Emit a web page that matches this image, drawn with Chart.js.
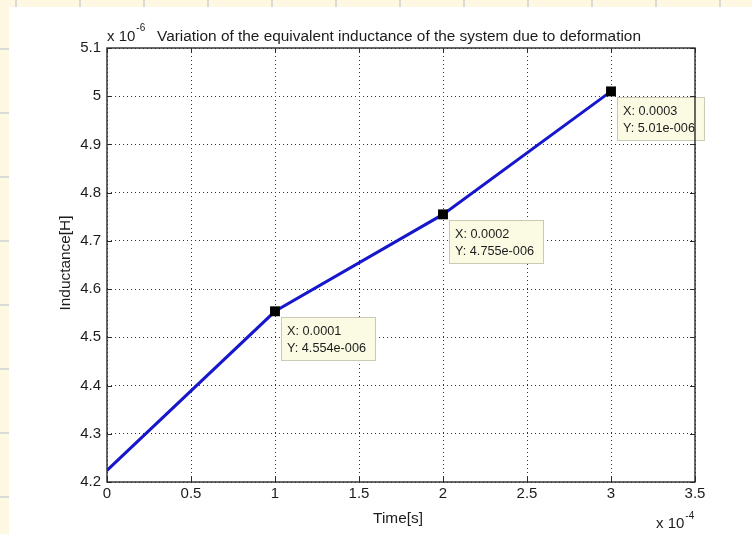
<!DOCTYPE html>
<html>
<head>
<meta charset="utf-8">
<script src="https://cdn.jsdelivr.net/npm/chart.js@4.4.1/dist/chart.umd.min.js"></script>
<style>
  html, body { margin: 0; padding: 0; width: 752px; height: 534px; overflow: hidden; }
  body {
    position: relative;
    background-color: #fef7e2;
    background-image:
      linear-gradient(to right, #dadad6 2px, transparent 2px),
      linear-gradient(to bottom, #dadad6 2px, transparent 2px);
    background-size: 64px 64px;
    background-position: 15px 48px;
  }
  #sheet { position: absolute; left: 9px; top: 7px; right: 0; bottom: 0; background: #ffffff; }
  #chart { position: absolute; left: 0; top: 0; }
</style>
</head>
<body>
<div id="sheet"></div>
<canvas id="chart" width="752" height="534"></canvas>
<script>
// Equivalent inductance of the system versus time
const timeValues = [0, 1e-4, 2e-4, 3e-4];                       // s
const inductanceValues = [4.224e-6, 4.554e-6, 4.755e-6, 5.01e-6]; // H
// Points that carry a data tip
const tipIndices = [1, 2, 3];

const xTickValues = [0, 0.5e-4, 1e-4, 1.5e-4, 2e-4, 2.5e-4, 3e-4, 3.5e-4];
const xTickLabels = ['0', '0.5', '1', '1.5', '2', '2.5', '3', '3.5'];
const yTickValues = [4.2e-6, 4.3e-6, 4.4e-6, 4.5e-6, 4.6e-6, 4.7e-6, 4.8e-6, 4.9e-6, 5.0e-6, 5.1e-6];
const yTickLabels = ['4.2', '4.3', '4.4', '4.5', '4.6', '4.7', '4.8', '4.9', '5', '5.1'];
const xExponent = '-4';
const yExponent = '-6';

const titleText = 'Variation of the equivalent inductance of the system due to deformation';
const xAxisTitle = 'Time[s]';
const yAxisTitle = 'Inductance[H]';

const FONT = '"Liberation Sans", Arial, Helvetica, sans-serif';
const INK = '#1c1c1c';

// MATLAB-style exponent text, e.g. 4.554e-006
function expText(v) {
  const parts = v.toExponential(3).split('e');
  const m = parts[0].replace(/\.?0+$/, '');
  const e = parts[1];
  return m + 'e' + e[0] + e.slice(1).padStart(3, '0');
}

const decorations = {
  id: 'decorations',
  afterDatasetsDraw(chart) {
    const ctx = chart.ctx;
    ctx.save();
    ctx.font = '12.7px ' + FONT;
    tipIndices.forEach((idx, k) => {
      const tip = chart.getDatasetMeta(1).data[k];
      const px = Math.round(tip.x), py = Math.round(tip.y);
      const l1 = 'X: ' + timeValues[idx].toFixed(4);
      const l2 = 'Y: ' + expText(inductanceValues[idx]);
      const w = Math.max(ctx.measureText(l1).width, ctx.measureText(l2).width) + 16;
      const h = 44;
      const bx = px + 6, by = py + 6;
      ctx.fillStyle = '#fbfbe4';
      ctx.fillRect(bx, by, w, h);
      ctx.strokeStyle = '#c9c9b6';
      ctx.lineWidth = 1;
      ctx.strokeRect(bx + 0.5, by + 0.5, w - 1, h - 1);
      ctx.fillStyle = INK;
      ctx.textAlign = 'left';
      ctx.textBaseline = 'middle';
      ctx.fillText(l1, bx + 6, by + 14);
      ctx.fillText(l2, bx + 6, by + 31);
    });
    ctx.restore();
  },
  afterDraw(chart) {
    const ctx = chart.ctx;
    const a = chart.chartArea;
    const xs = chart.scales.x, ys = chart.scales.y;
    ctx.save();
    // axes box
    ctx.strokeStyle = '#2a2a2a';
    ctx.lineWidth = 1.4;
    ctx.setLineDash([]);
    ctx.strokeRect(a.left, a.top, a.right - a.left, a.bottom - a.top);
    // inward tick marks on all four sides
    ctx.lineWidth = 1;
    ctx.beginPath();
    xTickValues.forEach(v => {
      const x = Math.round(xs.getPixelForValue(v)) + 0.5;
      ctx.moveTo(x, a.bottom); ctx.lineTo(x, a.bottom - 5);
      ctx.moveTo(x, a.top); ctx.lineTo(x, a.top + 5);
    });
    yTickValues.forEach(v => {
      const y = Math.round(ys.getPixelForValue(v)) + 0.5;
      ctx.moveTo(a.left, y); ctx.lineTo(a.left + 5, y);
      ctx.moveTo(a.right, y); ctx.lineTo(a.right - 5, y);
    });
    ctx.stroke();

    ctx.fillStyle = INK;
    ctx.textAlign = 'left';
    ctx.textBaseline = 'alphabetic';
    // y multiplier and title
    ctx.font = '15px ' + FONT;
    ctx.fillText('x 10', a.left, a.top - 7);
    const w10 = ctx.measureText('x 10').width;
    ctx.font = '10px ' + FONT;
    ctx.fillText(yExponent, a.left + w10 + 1, a.top - 17);
    ctx.font = '15.4px ' + FONT;
    ctx.textAlign = 'center';
    ctx.fillText(titleText, (a.left + a.right) / 2 - 2, a.top - 7);
    // x title
    ctx.fillText(xAxisTitle, (a.left + a.right) / 2 - 3, a.bottom + 41);
    // x multiplier
    ctx.textAlign = 'left';
    ctx.font = '15px ' + FONT;
    ctx.fillText('x 10', a.right - 39, a.bottom + 46);
    const wx = ctx.measureText('x 10').width;
    ctx.font = '10px ' + FONT;
    ctx.fillText(xExponent, a.right - 39 + wx + 1, a.bottom + 37);
    // y title
    ctx.font = '15.4px ' + FONT;
    ctx.translate(a.left - 37, (a.top + a.bottom) / 2 - 2);
    ctx.rotate(-Math.PI / 2);
    ctx.textAlign = 'center';
    ctx.fillText(yAxisTitle, 0, 0);
    ctx.restore();
  }
};

new Chart(document.getElementById('chart'), {
  type: 'scatter',
  data: {
    datasets: [
      {
        data: timeValues.map((t, i) => ({ x: t, y: inductanceValues[i] })),
        showLine: true,
        borderColor: '#1616cc',
        borderWidth: 3,
        pointRadius: 0,
        tension: 0,
        order: 1
      },
      {
        data: tipIndices.map(i => ({ x: timeValues[i], y: inductanceValues[i] })),
        showLine: false,
        pointStyle: 'rect',
        pointRadius: 7,
        backgroundColor: '#000000',
        borderColor: '#000000',
        borderWidth: 0,
        order: 0
      }
    ]
  },
  options: {
    responsive: false,
    animation: false,
    events: [],
    layout: { padding: { left: 0, top: 48, right: 57, bottom: 0 } },
    plugins: { legend: { display: false }, tooltip: { enabled: false }, title: { display: false } },
    scales: {
      x: {
        type: 'linear',
        min: 0,
        max: 3.5e-4,
        afterBuildTicks: s => { s.ticks = xTickValues.map(v => ({ value: v })); },
        afterFit: s => { s.height = 52; },
        ticks: {
          autoSkip: false,
          maxRotation: 0,
          padding: 3,
          color: INK,
          font: { family: FONT, size: 15 },
          callback: (v, i) => xTickLabels[i]
        },
        grid: { color: '#333333', lineWidth: 1, drawTicks: false },
        border: { display: false, dash: [1, 3] }
      },
      y: {
        type: 'linear',
        min: 4.2e-6,
        max: 5.1e-6,
        afterBuildTicks: s => { s.ticks = yTickValues.map(v => ({ value: v })); },
        afterFit: s => { s.width = 107; },
        ticks: {
          autoSkip: false,
          padding: 6,
          color: INK,
          font: { family: FONT, size: 15 },
          callback: (v, i) => yTickLabels[i]
        },
        grid: { color: '#333333', lineWidth: 1, drawTicks: false },
        border: { display: false, dash: [1, 3] }
      }
    }
  },
  plugins: [decorations]
});
</script>
</body>
</html>
